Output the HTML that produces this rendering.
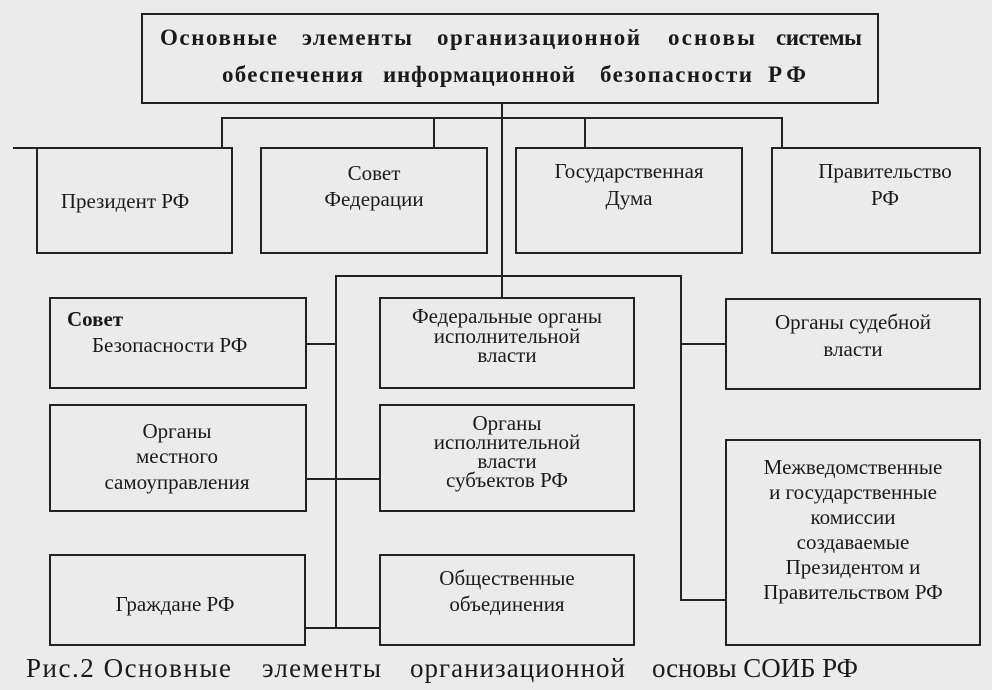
<!DOCTYPE html>
<html><head><meta charset="utf-8"><style>
html,body{margin:0;padding:0;background:#ebebeb;}
svg{display:block}
text{font-family:"Liberation Serif",serif;fill:#1a1a1a;}
</style></head><body>
<svg width="992" height="690" viewBox="0 0 992 690">
<rect width="992" height="690" fill="#ebebeb"/>
<g stroke="#222" stroke-width="2" fill="none">
<rect x="142" y="14" width="736" height="89"/>
<path d="M222 148V118H782V148M434 118V148M585 118V148M502 103V298M13 148H37"/>
<rect x="37" y="148" width="195" height="105"/>
<rect x="261" y="148" width="226" height="105"/>
<rect x="516" y="148" width="226" height="105"/>
<rect x="772" y="148" width="208" height="105"/>
<path d="M336 628V276H681V600H726M681 344H726M306 344H336M306 479H380M305 628H380"/>
<rect x="50" y="298" width="256" height="90"/>
<rect x="380" y="298" width="254" height="90"/>
<rect x="726" y="299" width="254" height="90"/>
<rect x="50" y="405" width="256" height="106"/>
<rect x="380" y="405" width="254" height="106"/>
<rect x="50" y="555" width="255" height="90"/>
<rect x="380" y="555" width="254" height="90"/>
<rect x="726" y="440" width="254" height="205"/>
</g>
<g font-size="23" font-weight="bold" lengthAdjust="spacingAndGlyphs">
<text x="160" y="45" textLength="117">Основные</text>
<text x="302" y="45" textLength="110">элементы</text>
<text x="437" y="45" textLength="203">организационной</text>
<text x="668" y="45" textLength="87">основы</text>
<text x="776" y="45" textLength="86">системы</text>
<text x="222" y="82" textLength="141">обеспечения</text>
<text x="383" y="82" textLength="192">информационной</text>
<text x="600" y="82" textLength="152">безопасности</text>
<text x="768" y="82" textLength="38">РФ</text>
</g>
<g font-size="21" text-anchor="middle">
<text x="125" y="208">Президент  РФ</text>
<text x="374" y="180">Совет</text>
<text x="374" y="206">Федерации</text>
<text x="629" y="178">Государственная</text>
<text x="629" y="205">Дума</text>
<text x="885" y="178">Правительство</text>
<text x="885" y="205">РФ</text>
<text x="507" y="323">Федеральные органы</text>
<text x="507" y="343">исполнительной</text>
<text x="507" y="362">власти</text>
<text x="853" y="329">Органы  судебной</text>
<text x="853" y="356">власти</text>
<text x="177" y="438">Органы</text>
<text x="177" y="463">местного</text>
<text x="177" y="489">самоуправления</text>
<text x="507" y="430">Органы</text>
<text x="507" y="449">исполнительной</text>
<text x="507" y="468">власти</text>
<text x="507" y="487">субъектов  РФ</text>
<text x="175" y="611">Граждане РФ</text>
<text x="507" y="585">Общественные</text>
<text x="507" y="611">объединения</text>
<text x="853" y="474">Межведомственные</text>
<text x="853" y="499">и  государственные</text>
<text x="853" y="524">комиссии</text>
<text x="853" y="549">создаваемые</text>
<text x="853" y="574">Президентом  и</text>
<text x="853" y="599">Правительством РФ</text>
</g>
<text x="67" y="326" font-size="21" font-weight="bold">Совет</text>
<text x="92" y="352" font-size="21">Безопасности  РФ</text>
<g font-size="27" lengthAdjust="spacingAndGlyphs">
<text x="26" y="677" textLength="205">Рис.2 Основные</text>
<text x="262" y="677" textLength="119">элементы</text>
<text x="410" y="677" textLength="215">организационной</text>
<text x="652" y="677" textLength="206">основы СОИБ РФ</text>
</g>
</svg>
</body></html>
